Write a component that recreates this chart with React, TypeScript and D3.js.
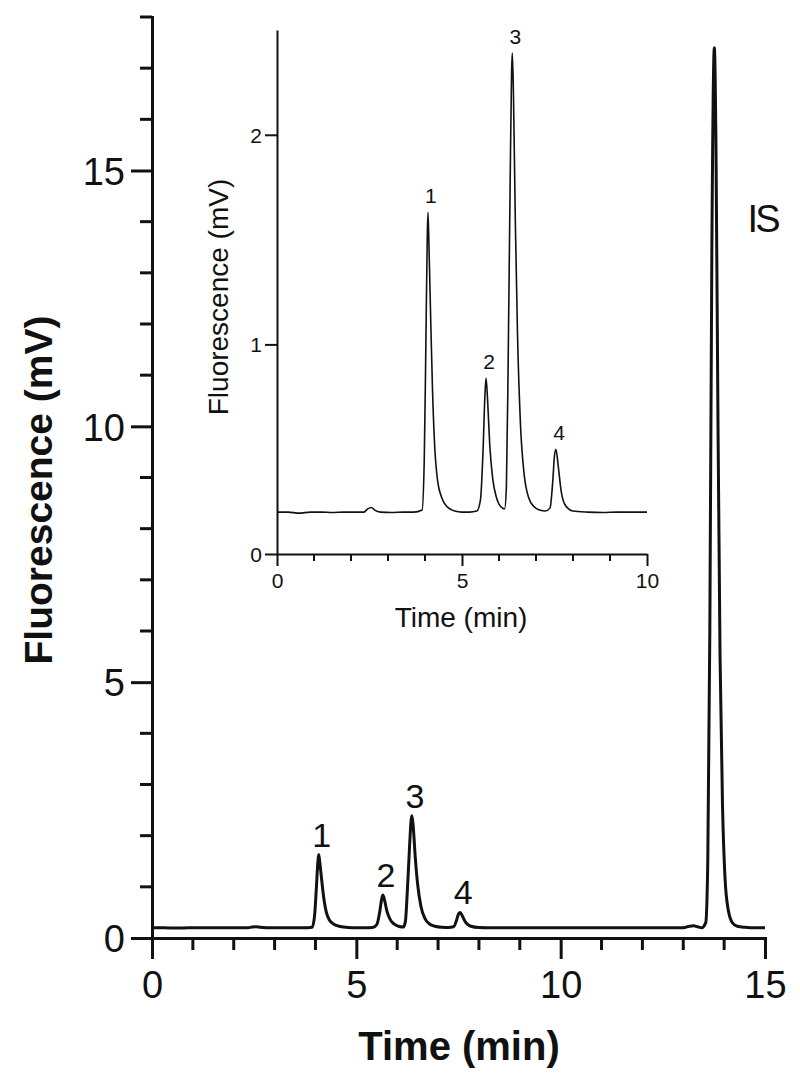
import { useEffect, useRef } from 'react'
import * as d3 from 'd3'

// chromatogram trace (time in min, signal in mV)
const timeMin = [
  0, 0.3, 0.6, 0.9, 1.2, 1.5, 1.8, 2.1, 2.35, 2.45, 2.55, 2.65, 2.8, 3.1, 3.4, 3.7,
  3.92, 3.98, 4.02, 4.06, 4.08, 4.11, 4.15, 4.2, 4.26, 4.34, 4.45, 4.6, 4.8, 5.0,
  5.2, 5.4, 5.5, 5.57, 5.62, 5.65, 5.69, 5.75, 5.83, 5.93, 6.05, 6.15, 6.2, 6.25,
  6.3, 6.34, 6.36, 6.39, 6.44, 6.5, 6.58, 6.68, 6.8, 6.95, 7.1, 7.25, 7.38, 7.45,
  7.5, 7.54, 7.6, 7.68, 7.8, 8.0, 8.4, 8.8, 9.2, 9.6, 10.0, 10.5, 11, 11.5, 12,
  12.5, 13.0, 13.15, 13.25, 13.35, 13.45, 13.55, 13.6, 13.65, 13.7, 13.76, 13.8,
  13.85, 13.9, 13.96, 14.02, 14.1, 14.2, 14.32, 14.5, 14.8, 15.0
]
const signalMv = [
  0.2, 0.2, 0.195, 0.2, 0.2, 0.198, 0.2, 0.2, 0.2, 0.215, 0.222, 0.208, 0.2, 0.198, 0.2, 0.2,
  0.21, 0.45, 0.95, 1.5, 1.63, 1.45, 1.15, 0.8, 0.52, 0.35, 0.27, 0.225, 0.205, 0.2,
  0.2, 0.205, 0.26, 0.5, 0.76, 0.84, 0.74, 0.52, 0.36, 0.27, 0.225, 0.215, 0.32, 0.95,
  1.75, 2.3, 2.39, 2.2, 1.6, 1.05, 0.62, 0.38, 0.27, 0.225, 0.21, 0.205, 0.22, 0.34,
  0.47, 0.5, 0.42, 0.3, 0.23, 0.205, 0.2, 0.198, 0.2, 0.2, 0.2, 0.2, 0.2, 0.2, 0.2,
  0.2, 0.2, 0.23, 0.24, 0.22, 0.2, 0.3, 1.5, 6, 13.5, 17.4, 15.5,
  10, 5.5, 2.6, 1.2, 0.55, 0.3, 0.23, 0.21, 0.2, 0.2
]

const peakNames = ['1', '2', '3', '4']
const peakTimes = [4.08, 5.65, 6.36, 7.54]
const peakHeights = [1.63, 0.84, 2.39, 0.5]

const mainXTicks = [0, 5, 10, 15]
const mainYTicks = [0, 5, 10, 15]
const insetXTicks = [0, 5, 10]
const insetYTicks = [0, 1, 2]

const FONT = '"Liberation Sans", Arial, Helvetica, sans-serif'

export default function App() {
  const svgRef = useRef<SVGSVGElement>(null)

  useEffect(() => {
    if (!svgRef.current) return
    const svg = d3.select(svgRef.current)
    svg.selectAll('*').remove()

    const data = timeMin.map((t, i) => ({ t, v: signalMv[i] }))
    const fmt = d3.format('d')

    // ---- main chart ----
    const x = d3.scaleLinear().domain([0, 15]).range([152, 765])
    const y = d3.scaleLinear().domain([0, 18]).range([938, 17])

    const main = svg.append('g')

    const xMinor = d3.range(0, 16).filter(d => d % 5 !== 0)
    const yMinor = d3.range(0, 19).filter(d => d % 5 !== 0)

    const xAxis = main.append('g').attr('transform', 'translate(0,938)')
    xAxis.call(d3.axisBottom(x).tickValues(mainXTicks).tickFormat(fmt).tickSize(21).tickPadding(12).tickSizeOuter(0))
    xAxis.append('g').selectAll('line').data(xMinor).enter().append('line')
      .attr('x1', d => x(d)).attr('x2', d => x(d)).attr('y1', 0).attr('y2', 12)
    const yAxis = main.append('g').attr('transform', 'translate(152,0)')
    yAxis.call(d3.axisLeft(y).tickValues(mainYTicks).tickFormat(fmt).tickSize(21).tickPadding(6).tickSizeOuter(0))
    yAxis.append('g').selectAll('line').data(yMinor).enter().append('line')
      .attr('x1', -12).attr('x2', 0).attr('y1', d => y(d)).attr('y2', d => y(d))

    main.selectAll('.domain, line').attr('stroke', '#111').attr('stroke-width', 3)
    main.selectAll('.domain').attr('stroke-linecap', 'square')
    main.selectAll('.tick text')
      .attr('fill', '#111').style('font-family', FONT).style('font-size', '38px')
    yAxis.selectAll('.tick text').attr('dy', '0.36em')
    xAxis.selectAll('.tick text').attr('dy', '0.71em')

    const mainLine = d3.line<{ t: number; v: number }>()
      .x(d => x(d.t)).y(d => y(d.v)).curve(d3.curveMonotoneX)
    main.append('path').datum(data)
      .attr('fill', 'none').attr('stroke', '#111').attr('stroke-width', 3)
      .attr('stroke-linejoin', 'round').attr('d', mainLine)

    main.selectAll('.plabel').data(peakNames).enter().append('text')
      .attr('x', (d, i) => x(peakTimes[i]) + 3)
      .attr('y', (d, i) => y(peakHeights[i]) - 8)
      .attr('text-anchor', 'middle')
      .style('font-family', FONT).style('font-size', '34px').attr('fill', '#111')
      .text(d => d)

    main.append('text')
      .attr('x', x(14.94)).attr('y', y(13.8))
      .attr('text-anchor', 'middle')
      .style('font-family', FONT).style('font-size', '38px').style('letter-spacing', '-3px')
      .attr('fill', '#111').text('IS')

    main.append('text')
      .attr('x', 459).attr('y', 1060).attr('text-anchor', 'middle')
      .style('font-family', FONT).style('font-size', '40px').style('font-weight', 'bold')
      .attr('fill', '#111').text('Time (min)')

    main.append('text')
      .attr('transform', 'translate(52,490) rotate(-90)').attr('text-anchor', 'middle')
      .style('font-family', FONT).style('font-size', '39px').style('font-weight', 'bold')
      .attr('fill', '#111').text('Fluorescence (mV)')

    // ---- inset ----
    const ix = d3.scaleLinear().domain([0, 10]).range([277, 647])
    const iy = d3.scaleLinear().domain([0, 2.5]).range([554, 30])
    const inset = svg.append('g')

    const ixMinor = d3.range(0, 11).filter(d => d % 5 !== 0)
    const ixAxis = inset.append('g').attr('transform', 'translate(0,554)')
    ixAxis.call(d3.axisBottom(ix).tickValues(insetXTicks).tickFormat(fmt).tickSize(12).tickPadding(7).tickSizeOuter(0))
    ixAxis.append('g').selectAll('line').data(ixMinor).enter().append('line')
      .attr('x1', d => ix(d)).attr('x2', d => ix(d)).attr('y1', 0).attr('y2', 7)
    const iyAxis = inset.append('g').attr('transform', 'translate(277,0)')
    iyAxis.call(d3.axisLeft(iy).tickValues(insetYTicks).tickFormat(fmt).tickSize(12).tickPadding(3).tickSizeOuter(0))

    inset.selectAll('.domain, line').attr('stroke', '#111').attr('stroke-width', 2)
    inset.selectAll('.tick text')
      .attr('fill', '#111').style('font-family', FONT).style('font-size', '21px')
    iyAxis.selectAll('.tick text').attr('dy', '0.36em')
    ixAxis.selectAll('.tick text').attr('dy', '0.71em')

    const insetLine = d3.line<{ t: number; v: number }>()
      .x(d => ix(d.t)).y(d => iy(d.v)).curve(d3.curveMonotoneX)
    inset.append('path').datum(data.filter(d => d.t <= 10))
      .attr('fill', 'none').attr('stroke', '#111').attr('stroke-width', 1.6)
      .attr('stroke-linejoin', 'round').attr('d', insetLine)

    inset.selectAll('.plabel').data(peakNames).enter().append('text')
      .attr('x', (d, i) => ix(peakTimes[i]) + 3)
      .attr('y', (d, i) => iy(peakHeights[i]) - 9)
      .attr('text-anchor', 'middle')
      .style('font-family', FONT).style('font-size', '21px').attr('fill', '#111')
      .text(d => d)

    inset.append('text')
      .attr('x', 461).attr('y', 627).attr('text-anchor', 'middle')
      .style('font-family', FONT).style('font-size', '28px')
      .attr('fill', '#111').text('Time (min)')

    inset.append('text')
      .attr('transform', 'translate(228,297) rotate(-90)').attr('text-anchor', 'middle')
      .style('font-family', FONT).style('font-size', '28px')
      .attr('fill', '#111').text('Fluorescence (mV)')
  }, [])

  return (
    <svg
      ref={svgRef}
      width={800}
      height={1090}
      style={{ position: 'absolute', left: 0, top: 0, background: '#fff' }}
    />
  )
}
